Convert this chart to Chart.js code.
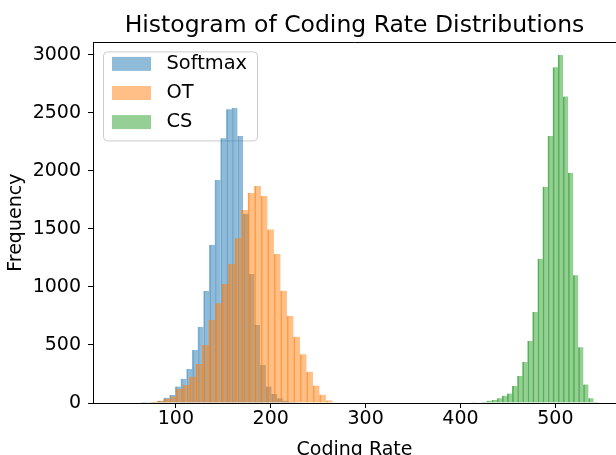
<!DOCTYPE html>
<html>
<head>
<meta charset="utf-8">
<script src="https://cdn.jsdelivr.net/npm/chart.js@4.4.0/dist/chart.umd.min.js"></script>
<style>
  html, body { margin: 0; padding: 0; background: #fff; }
</style>
</head>
<body>
<canvas id="myChart" width="616" height="455"></canvas>
<script>
'use strict'
// series names + colours (matplotlib default cycle, alpha 0.5)
var seriesNames = ['Softmax', 'OT', 'CS'];
var seriesColors = ['rgba(31,119,180,0.5)', 'rgba(255,127,14,0.5)', 'rgba(44,160,44,0.5)'];
var seamColors = ['rgba(31,119,180,0.5)', 'rgba(255,127,14,0.72)', 'rgba(44,160,44,0.75)'];

// bin centres and counts
var softmaxBins = [66.5, 72.5, 78.5, 84.4, 90.4, 96.4, 102.3, 108.3, 114.3, 120.2, 126.2, 132.2, 138.2, 144.1,
  150.1, 156.1, 162.0, 168.0, 174.0, 180.0, 185.9, 191.9, 197.9, 203.8, 209.8, 215.8, 221.8, 227.7];
var softmaxCounts = [1, 3, 8, 20, 46, 69, 141, 209, 293, 456, 655, 965, 1360, 1920,
  2280, 2530, 2540, 2300, 1627, 1110, 671, 327, 141, 77, 40, 20, 8, 3];

var otBins = [69.9, 76.7, 83.6, 90.4, 97.3, 104.1, 111.0, 117.8, 124.7, 131.5, 138.4, 145.2, 152.1, 158.9,
  165.8, 172.6, 179.5, 186.3, 193.2, 200.0, 206.9, 213.7, 220.6, 227.4, 234.3, 241.1, 248.0, 254.8, 261.7];
var otCounts = [5, 10, 18, 34, 55, 120, 155, 227, 336, 499, 714, 858, 1024, 1196,
  1418, 1661, 1810, 1868, 1782, 1495, 1283, 967, 749, 571, 420, 270, 150, 70, 22];

var csBins = [403.8, 409.2, 414.5, 419.9, 425.2, 430.6, 435.9, 441.3, 446.6, 452.0, 457.3, 462.7, 468.0, 473.4,
  478.7, 484.1, 489.4, 494.8, 500.1, 505.5, 510.8, 516.2, 521.5, 526.9, 532.2, 537.6, 542.9];
var csCounts = [5, 0, 2, 5, 8, 20, 26, 40, 63, 82, 146, 233, 352, 534,
  783, 1240, 1862, 2298, 2890, 2996, 2640, 1980, 1100, 480, 160, 40, 8];

var xTicks = [100, 200, 300, 400, 500];
var yTicks = [0, 500, 1000, 1500, 2000, 2500, 3000];
var xMin = 12.7, xMax = 563.9, yMax = 3105;

var FONT = '"DejaVu Sans", sans-serif';

function toPoints(bins, counts) {
  var pts = [];
  for (var i = 0; i < bins.length; i++) {
    pts.push({ x: bins[i], y: counts[i] });
  }
  return pts;
}

function makeDataset(i, bins, counts, axisId) {
  return {
    label: seriesNames[i],
    data: toPoints(bins, counts),
    backgroundColor: seriesColors[i],
    borderColor: seamColors[i],
    borderWidth: { left: 1, right: 0, top: 0, bottom: 0 },
    barPercentage: 1,
    categoryPercentage: 1,
    grouped: false,
    xAxisID: axisId,
    order: 3 - i  // later series painted on top, like matplotlib
  };
}

function hiddenX() {
  return { type: 'linear', display: false, min: xMin, max: xMax, offset: false, grid: { offset: false } };
}

function plainTick(value) {
  return String(value);
}

// legend box in the upper left corner
var legendBox = {
  id: 'legendBox',
  beforeDatasetsDraw: function(chart) {
    var ctx = chart.ctx;
    var area = chart.chartArea;
    var left = area.left + 10.5, top = area.top + 9.5, w = 154, h = 89, r = 4;
    ctx.save();
    ctx.beginPath();
    ctx.moveTo(left + r, top);
    ctx.lineTo(left + w - r, top);
    ctx.quadraticCurveTo(left + w, top, left + w, top + r);
    ctx.lineTo(left + w, top + h - r);
    ctx.quadraticCurveTo(left + w, top + h, left + w - r, top + h);
    ctx.lineTo(left + r, top + h);
    ctx.quadraticCurveTo(left, top + h, left, top + h - r);
    ctx.lineTo(left, top + r);
    ctx.quadraticCurveTo(left, top, left + r, top);
    ctx.closePath();
    ctx.fillStyle = 'rgba(255,255,255,0.8)';
    ctx.fill();
    ctx.strokeStyle = '#cccccc';
    ctx.lineWidth = 1;
    ctx.stroke();

    ctx.font = '19.4px ' + FONT;
    ctx.textBaseline = 'middle';
    ctx.textAlign = 'left';
    chart.data.datasets.forEach(function(ds, i) {
      var cy = area.top + 21.5 + i * 29.1;
      ctx.fillStyle = ds.backgroundColor;
      ctx.fillRect(left + 8.5, cy - 7, 39, 14);
      ctx.fillStyle = '#000';
      ctx.fillText(ds.label, left + 63, cy);
    });
    ctx.restore();
  }
};

// top spine
var topSpine = {
  id: 'topSpine',
  afterDraw: function(chart) {
    var ctx = chart.ctx, area = chart.chartArea;
    ctx.save();
    ctx.strokeStyle = '#000';
    ctx.lineWidth = 1;
    ctx.beginPath();
    ctx.moveTo(area.left, Math.round(area.top) + 0.5);
    ctx.lineTo(area.right, Math.round(area.top) + 0.5);
    ctx.stroke();
    ctx.restore();
  }
};

var ctx = document.getElementById('myChart').getContext('2d');
var chart = new Chart(ctx, {
  type: 'bar',
  data: {
    datasets: [
      makeDataset(0, softmaxBins, softmaxCounts, 'x'),
      makeDataset(1, otBins, otCounts, 'x2'),
      makeDataset(2, csBins, csCounts, 'x3')
    ]
  },
  options: {
    responsive: false,
    animation: false,
    devicePixelRatio: 1,
    layout: { padding: 0 },
    plugins: {
      legend: { display: false },
      tooltip: { enabled: false },
      title: {
        display: true,
        text: 'Histogram of Coding Rate Distributions',
        fullSize: false,
        color: '#000',
        font: { family: FONT, size: 23.5, weight: 'normal', lineHeight: 1 },
        padding: { top: 14.5, bottom: 4.4 }
      }
    },
    scales: {
      x: {
        type: 'linear',
        min: xMin,
        max: xMax,
        offset: false,
        afterBuildTicks: function(axis) {
          axis.ticks = xTicks.map(function(v) { return { value: v }; });
        },
        afterFit: function(axis) { axis.height = 52; },
        grid: { offset: false, drawOnChartArea: false, color: '#000', tickLength: 5, tickWidth: 1 },
        border: { color: '#000', width: 1 },
        ticks: { color: '#000', font: { family: FONT, size: 19 }, padding: 0, maxRotation: 0, autoSkip: false, callback: plainTick },
        title: {
          display: true,
          text: 'Coding Rate',
          color: '#000',
          font: { family: FONT, size: 19, lineHeight: 1 },
          padding: { top: 0, bottom: -5 }
        }
      },
      x2: hiddenX(),
      x3: hiddenX(),
      y: {
        min: 0,
        max: yMax,
        afterBuildTicks: function(axis) {
          axis.ticks = yTicks.map(function(v) { return { value: v }; });
        },
        afterFit: function(axis) { axis.width = 93; },
        grid: { drawOnChartArea: false, color: '#000', tickLength: 5, tickWidth: 1 },
        border: { color: '#000', width: 1 },
        ticks: { color: '#000', font: { family: FONT, size: 19 }, padding: 7, callback: plainTick },
        title: {
          display: true,
          text: 'Frequency',
          color: '#000',
          font: { family: FONT, size: 19, lineHeight: 1 },
          padding: { top: 7, bottom: 0 }
        }
      }
    }
  },
  plugins: [legendBox, topSpine]
});
</script>
</body>
</html>
